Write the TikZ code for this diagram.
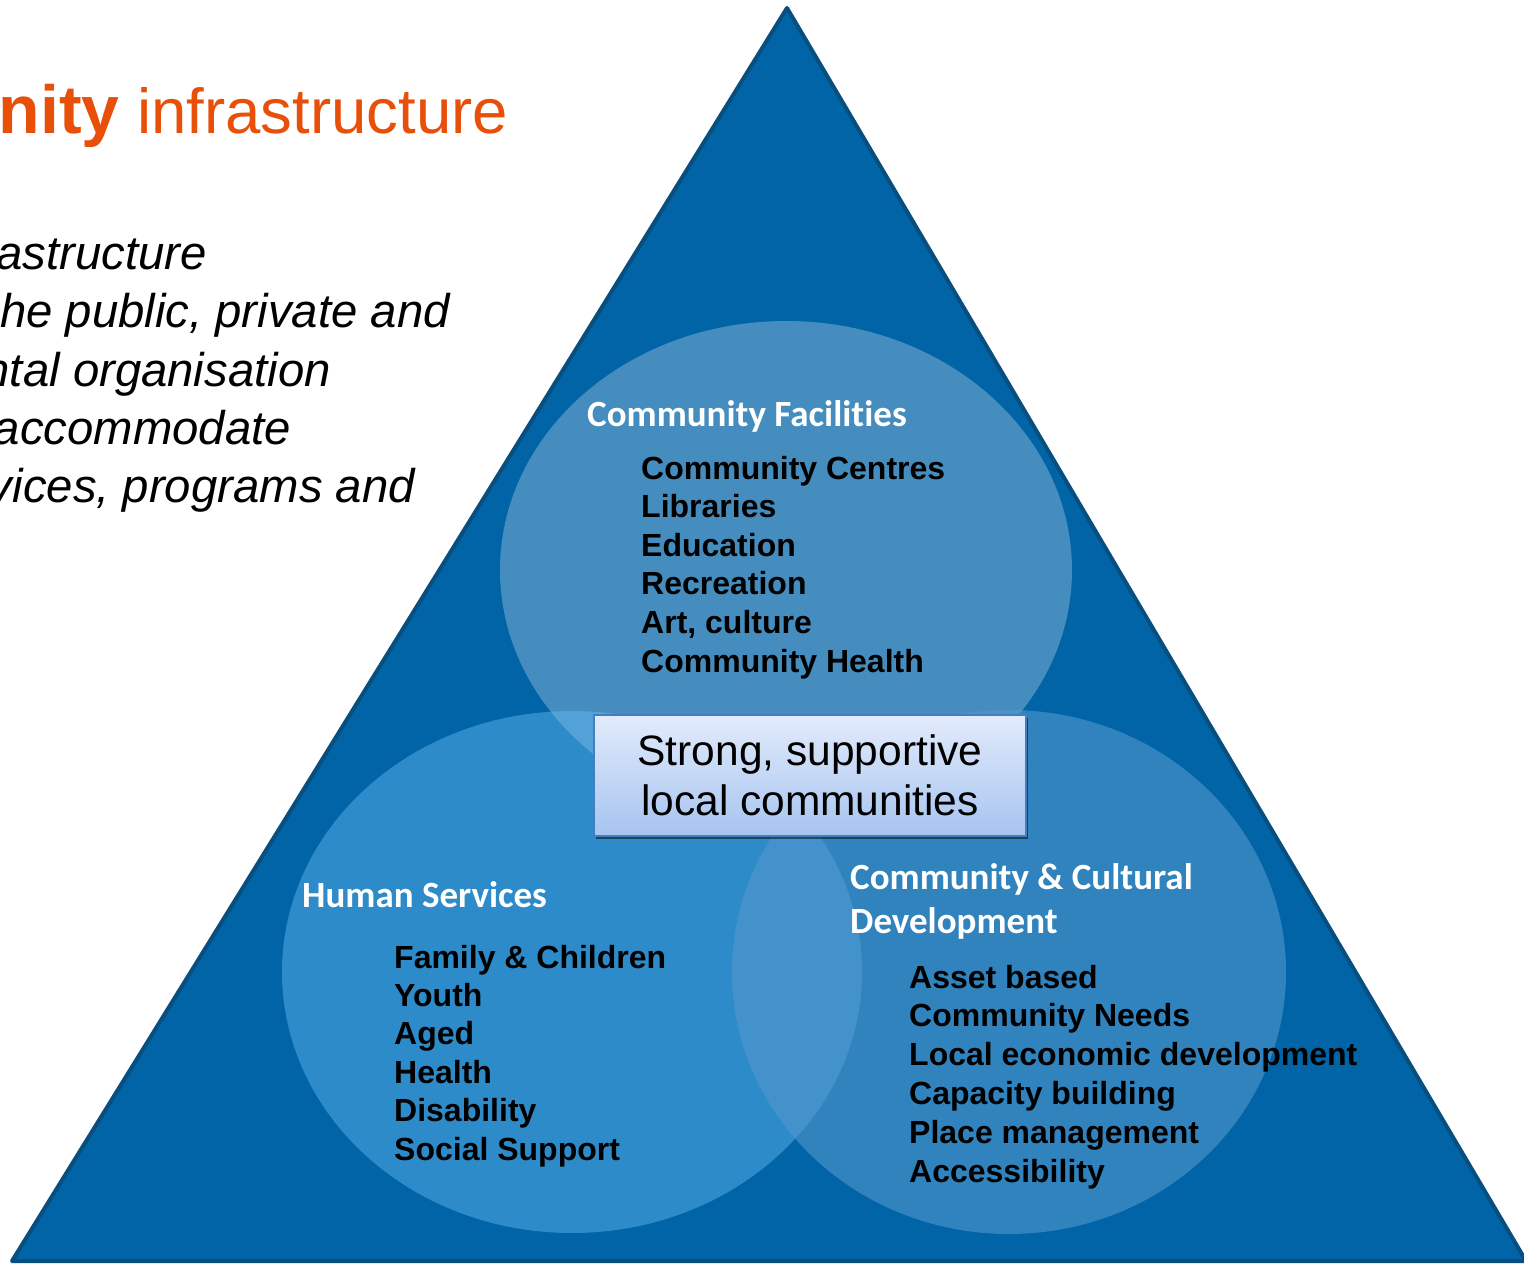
\documentclass[tikz,border=0pt]{standalone}
\usepackage{fontspec}
\setmainfont{Liberation Sans}
\newfontfamily\calibri[Ligatures=NoCommon]{Carlito}
\usetikzlibrary{shadows}
\definecolor{tribg}{RGB}{0,100,166}
\definecolor{triedge}{RGB}{8,78,126}
\definecolor{titleorange}{RGB}{232,80,10}
\definecolor{leftov}{RGB}{102,187,245}
\definecolor{rightov}{RGB}{82,152,207}
\definecolor{boxtop}{RGB}{226,235,251}
\definecolor{boxbot}{RGB}{166,196,240}
\definecolor{boxedge}{RGB}{70,125,190}
\begin{document}
\begin{tikzpicture}[x=1pt,y=-1pt,
  heading/.style={anchor=base west, text=white, font=\calibri\bfseries\fontsize{37}{44}\selectfont, inner sep=0pt},
  items/.style={anchor=base west, text=black, font=\bfseries\fontsize{32}{38.6}\selectfont, inner sep=0pt},
  body/.style={anchor=base east, font=\itshape\fontsize{47.3}{58}\selectfont, inner sep=0pt},
  boxtext/.style={anchor=base, font=\fontsize{42.5}{50}\selectfont, inner sep=0pt},
]
\useasboundingbox (0,0) rectangle (1524,1265);
\fill[white] (0,0) rectangle (1524,1265);

% title and description (cut by the page edge, as in the original slide crop)
\node[anchor=base east, text=titleorange, font=\fontsize{63.5}{70}\selectfont, inner sep=0pt] (title) at (508,134) {{\bfseries\fontsize{68}{70}\selectfont nity} infrastructure};
\node[body] (b1) at (207,270) {astructure};
\node[body] (b2) at (450,328) {he public, private and};
\node[body] (b3) at (331,386) {ntal organisation};
\node[body] (b4) at (291,444) {accommodate};
\node[body] (b5) at (415,502) {vices, programs and};

% triangle
\filldraw[fill=tribg, draw=triedge, line width=4pt, line join=round] (12,1261) -- (787,8) -- (1526,1261) -- cycle;

% circles
\fill[white, opacity=0.27] (786,570) ellipse [x radius=286pt, y radius=249pt];
\fill[leftov, opacity=0.45] (572,972) ellipse [x radius=290pt, y radius=261pt];
\fill[rightov, opacity=0.6] (1009,972) ellipse [x radius=277pt, y radius=262pt];

% Community Facilities
\node[heading] (hcf) at (587,426) {Community Facilities};
\foreach \t [count=\i from 0] in {Community Centres, Libraries, Education, Recreation, {Art, culture}, Community Health}
  \node[items] (cf\i) at (641,479+38.6*\i) {\t};

% Human Services
\node[heading] (hhs) at (302,907) {Human Services};
\foreach \t [count=\i from 0] in {Family \& Children, Youth, Aged, Health, Disability, Social Support}
  \node[items] (hs\i) at (394,968+38.4*\i) {\t};

% Community & Cultural Development
\node[heading] (hcd1) at (850,889) {Community \& Cultural};
\node[heading] (hcd2) at (850,933) {Development};
\foreach \t [count=\i from 0] in {Asset based, Community Needs, Local economic development, Capacity building, Place management, Accessibility}
  \node[items] (cd\i) at (909,988+38.8*\i) {\t};

% centre box
\node[draw=boxedge, line width=2pt, top color=boxtop, bottom color=boxbot, minimum width=432pt, minimum height=121pt, inner sep=0pt,
      drop shadow={shadow xshift=2pt, shadow yshift=-3pt, opacity=0.5, fill=black}] (core) at (810,775.5) {};
\node[boxtext] (core1) at (810,765) {Strong, supportive};
\node[boxtext] (core2) at (810,815) {local communities};
\end{tikzpicture}
\end{document}
